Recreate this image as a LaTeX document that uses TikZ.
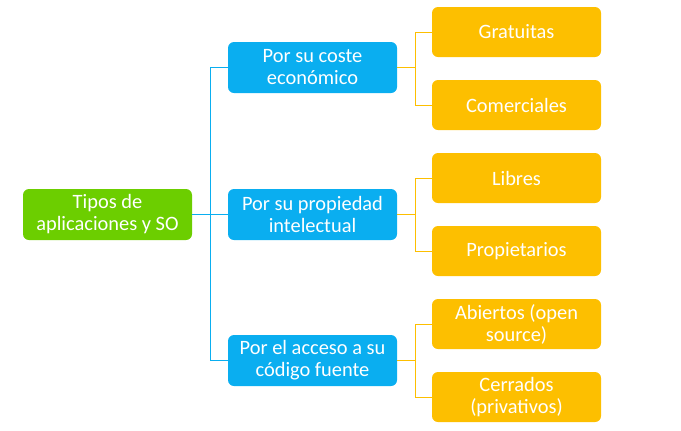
\documentclass[tikz,border=0pt]{standalone}
\usepackage{fontspec}
\setmainfont{Carlito}
\usepackage{tikz}
\usetikzlibrary{calc}
\usetikzlibrary{positioning}
\definecolor{rootgreen}{RGB}{108,206,0}
\definecolor{midblue}{RGB}{10,174,240}
\definecolor{leafgold}{RGB}{253,191,0}
\tikzset{box/.style = {draw=none, rounded corners=4.5pt, text=white, align=center,
    minimum width=126.75pt, minimum height=37.5pt, inner sep=1,
    font=\fontsize{15.3}{16.5}\selectfont}}
\tikzstyle{rootbox} = [box, fill=rootgreen, minimum height=38.25pt]
\tikzstyle{midbox} = [box, fill=midblue, minimum height=38.25pt]
\tikzstyle{leafbox} = [box, fill=leafgold]
\tikzstyle{bluelink} = [-, draw=midblue, line width=0.75pt]
\tikzstyle{goldlink} = [-, draw=leafgold, line width=0.75pt]

\begin{document}
\begin{tikzpicture}[x=0.75pt, y=-0.75pt]
\useasboundingbox (0, 0) rectangle (681, 430);
\node [rootbox] (root) at (107.5, 214.5) {Tipos de\\aplicaciones y SO};
\node [midbox] (cost) at (312.5, 67.5) {Por su coste\\económico};
\node [midbox] (prop) at (312.5, 214.5) {Por su propiedad\\intelectual};
\node [midbox] (code) at (312.5, 360.5) {Por el acceso a su\\código fuente};
\node [leafbox] (free) at (516.5, 32) {Gratuitas};
\node [leafbox] (comm) at (516.5, 105) {Comerciales};
\node [leafbox] (libre) at (516.5, 178) {Libres};
\node [leafbox] (owner) at (516.5, 251) {Propietarios};
\node [leafbox] (open) at (516.5, 324) {Abiertos (open\\source)};
\node [leafbox] (closed) at (516.5, 397) {Cerrados\\(privativos)};
\draw [bluelink] (root.east) -- ++(18, 0) |- (cost.west);
\draw [bluelink] (root.east) -- (prop.west);
\draw [bluelink] (root.east) -- ++(18, 0) |- (code.west);
\draw [goldlink] (cost.east) -- ++(18, 0) |- (free.west);
\draw [goldlink] (cost.east) -- ++(18, 0) |- (comm.west);
\draw [goldlink] (prop.east) -- ++(18, 0) |- (libre.west);
\draw [goldlink] (prop.east) -- ++(18, 0) |- (owner.west);
\draw [goldlink] (code.east) -- ++(18, 0) |- (open.west);
\draw [goldlink] (code.east) -- ++(18, 0) |- (closed.west);
\end{tikzpicture}
\end{document}
